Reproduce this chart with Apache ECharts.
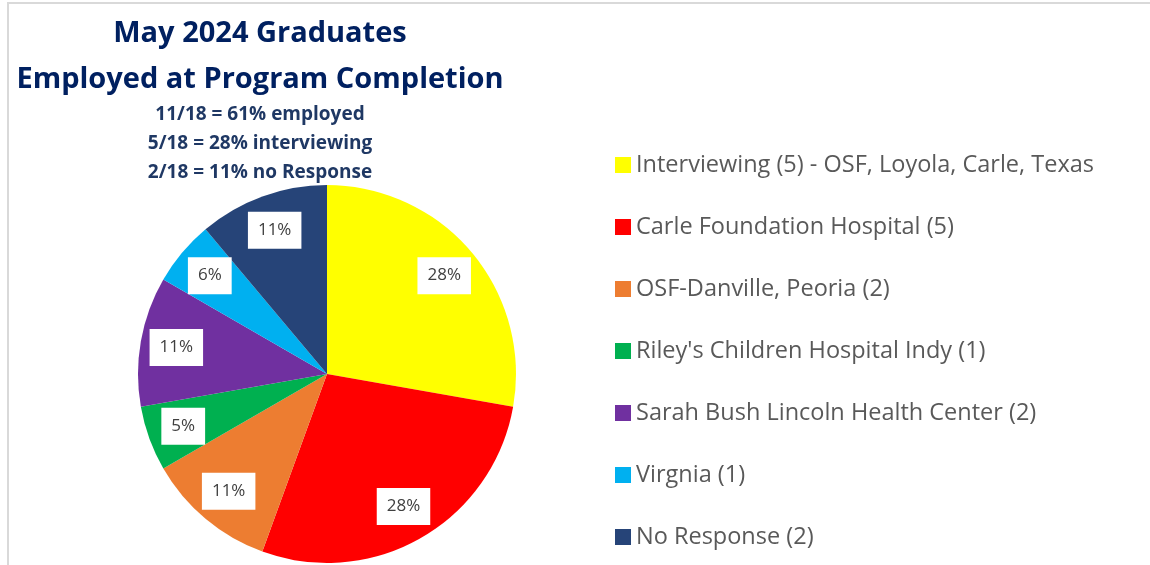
<!DOCTYPE html>
<html>
<head>
<meta charset="utf-8">
<title>May 2024 Graduates</title>
<script src="https://cdn.jsdelivr.net/npm/echarts@6/dist/echarts.min.js"></script>
<style>
  html, body { margin: 0; padding: 0; background: #fff; }
  #chart { width: 1150px; height: 565px; }
</style>
</head>
<body>
<div id="chart"></div>
<script>
// data
var names = [
  'Interviewing (5) - OSF, Loyola, Carle, Texas',
  'Carle Foundation Hospital (5)',
  'OSF-Danville, Peoria (2)',
  "Riley's Children Hospital Indy (1)",
  'Sarah Bush Lincoln Health Center (2)',
  'Virgnia (1)',
  'No Response (2)'
];
var counts = [5, 5, 2, 1, 2, 1, 2];
var pctLabels = ['28%', '28%', '11%', '5%', '11%', '6%', '11%'];
var colors = ['#ffff00', '#ff0000', '#ed7d31', '#00b050', '#7030a0', '#00b0f0', '#264478'];
var subLines = ['11/18 = 61% employed', '5/18 = 28% interviewing', '2/18 = 11% no Response'];

var pieData = names.map(function (n, i) {
  return { name: n, value: counts[i], itemStyle: { color: colors[i] } };
});
// second ring only carries the white label boxes
var labelData = names.map(function (n, i) {
  return { name: n, value: counts[i], label: { formatter: pctLabels[i] } };
});

var myChart = echarts.init(document.getElementById('chart'));

var option = {
  backgroundColor: '#fff',
  animation: false,
  title: [{
    text: 'May 2024 Graduates\nEmployed at Program Completion',
    left: 255, top: 6, textAlign: 'center',
    textStyle: { fontFamily: 'Open Sans', fontWeight: 'bold', fontSize: 29, color: '#002060', lineHeight: 46 }
  }, {
    text: subLines.join('\n'),
    left: 255, top: 95, textAlign: 'center',
    textStyle: { fontFamily: 'Open Sans', fontWeight: 'bold', fontSize: 19, color: '#1f3864', lineHeight: 29 }
  }],
  legend: {
    orient: 'vertical',
    left: 615, top: 153,
    padding: 0,
    itemWidth: 16, itemHeight: 16, itemGap: 38,
    icon: 'rect',
    data: names,
    textStyle: { fontFamily: 'Open Sans', fontSize: 23.5, color: '#595959', lineHeight: 24 }
  },
  graphic: [{
    type: 'polyline',
    shape: { points: [[8, 565], [8, 3], [1150, 3]] },
    style: { stroke: '#d9d9d9', lineWidth: 2, fill: null },
    silent: true
  }],
  series: [{
    type: 'pie',
    center: [327, 374],
    radius: [0, 189],
    startAngle: 90,
    clockwise: true,
    data: pieData,
    label: { show: false },
    labelLine: { show: false },
    itemStyle: { borderWidth: 0 },
    emphasis: { disabled: true }
  }, {
    type: 'pie',
    center: [327, 374],
    radius: [111, 189],
    startAngle: 90,
    clockwise: true,
    data: labelData,
    silent: true,
    legendHoverLink: false,
    itemStyle: { color: 'rgba(0,0,0,0)', borderWidth: 0 },
    label: {
      show: true,
      position: 'inside',
      backgroundColor: '#fff',
      padding: [10, 10],
      fontFamily: 'Open Sans',
      fontSize: 17,
      color: '#404040'
    },
    labelLine: { show: false },
    emphasis: { disabled: true }
  }]
};

myChart.setOption(option);
</script>
</body>
</html>
